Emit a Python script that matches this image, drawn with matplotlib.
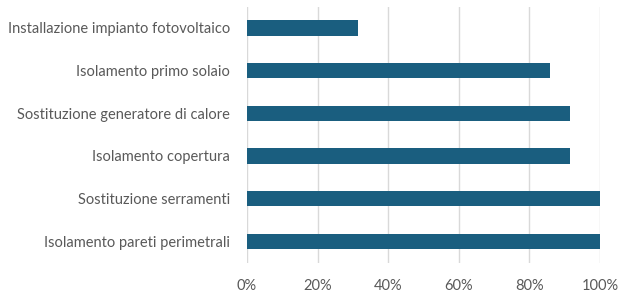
import matplotlib.pyplot as plt
from matplotlib.ticker import FuncFormatter

categories = [
    "Isolamento pareti perimetrali",
    "Sostituzione serramenti",
    "Isolamento copertura",
    "Sostituzione generatore di calore",
    "Isolamento primo solaio",
    "Installazione impianto fotovoltaico",
]
values = [100, 100, 91.4, 91.4, 85.7, 31.4]
xticks = [0, 20, 40, 60, 80, 100]

plt.rcParams['font.family'] = ['Lato', 'DejaVu Sans']

fig = plt.figure(figsize=(6.23, 2.96), dpi=100)
ax = fig.add_axes([247 / 623, 0.1125, 353 / 623, 0.978 - 0.1125])

ax.barh(categories, values, height=0.36, color='#1a5e7f', zorder=3)

ax.set_xlim(0, 100)
ax.set_ylim(-0.5, len(categories) - 0.5)
ax.set_xticks(xticks)
ax.xaxis.set_major_formatter(FuncFormatter(lambda v, p: f"{v:.0f}%"))
ax.grid(axis='x', color='#d9d9d9', linewidth=1, zorder=0)
ax.grid(axis='y', visible=False)

for s in ax.spines.values():
    s.set_visible(False)

ax.tick_params(axis='both', length=0, colors='#595959', labelsize=10.5)
ax.tick_params(axis='y', pad=12)
ax.tick_params(axis='x', pad=12)

plt.savefig('out.png', dpi=100)
